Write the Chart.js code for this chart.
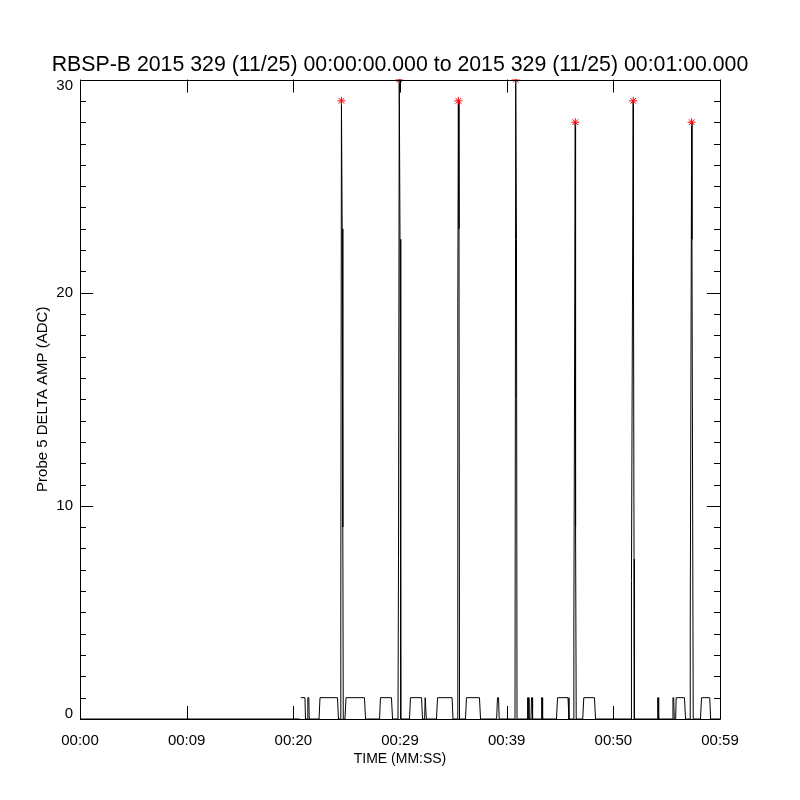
<!DOCTYPE html>
<html>
<head>
<meta charset="utf-8">
<script src="https://cdn.jsdelivr.net/npm/chart.js@4"></script>
<style>
  body { margin: 0; background: #fff; }
</style>
</head>
<body>
<canvas id="probeChart" width="800" height="800"></canvas>
<script>
// time in seconds from 00:00:00, amplitude in ADC counts (null = data gap)
const timeSec = [
    0, 20.60, 20.65, 20.69, 21.09, 21.14,
    21.31, 21.36, 21.45, 21.49,
    22.41, 22.50, 24.14, 24.23,
    24.42, 24.45, 24.51, 24.58, 24.64, 24.68,
    24.84, 24.94, 26.67, 26.77,
    28.08, 28.17, 29.20, 29.30,
    29.81, 29.86, 29.93, 30.00, 30.07,
    30.89, 30.98, 32.02, 32.11,
    32.31, 32.36, 32.41, 32.47,
    33.42, 33.52, 34.88, 34.97,
    35.37, 35.42, 35.47, 35.53, 35.58,
    36.14, 36.23, 37.45, 37.55,
    39.06, 39.14, 39.24, 39.30,
    40.78, 40.85, 40.92, 40.97,
    41.91, 41.96, 42.05, 42.09,
    42.28, 42.33, 42.39, 42.43,
    43.23, 43.28, 43.32, 43.37,
    44.67, 44.77, 45.75, 45.84,
    46.27, 46.30, 46.43, 46.44, 46.48, 46.52,
    47.13, 47.23, 48.23, 48.33,
    51.68, 51.70, 51.86, 51.89, 51.94, 51.97,
    54.12, 54.16, 54.20, 54.25,
    55.55, 55.59, 55.66, 55.71, 55.84, 55.89, 56.67, 56.77,
    57.19, 57.21, 57.34, 57.37, 57.44, 57.49,
    58.17, 58.27, 59.04, 59.12,
    60
];
const amp = [
    0, 0, null, 1, 1, 0,
    0, 1, 1, 0,
    0, 1, 1, 0,
    0, 5.4, 29, 23, 9, 0,
    0, 1, 1, 0,
    0, 1, 1, 0,
    0, 7.5, 30, 22.5, 0,
    0, 1, 1, 0,
    0, 1, 1, 0,
    0, 1, 1, 0,
    0, 19.5, 29, 23, 0,
    0, 1, 1, 0,
    0, 1, 1, 0,
    0, 30, 22.5, 0,
    0, 1, 1, 0,
    0, 1, 1, 0,
    0, 1, 1, 0,
    0, 1, 1, 0,
    0, 4.5, 28, 18.5, 9, 0,
    0, 1, 1, 0,
    0, 6.5, 29, 21, 7.5, 0,
    0, 1, 1, 0,
    0, 1, 1, 0, 0, 1, 1, 0,
    0, 4.5, 28, 22.5, 9, 0,
    0, 1, 1, 0,
    0
];

// red asterisks on the detected peaks
const peakTimes = [24.51, 29.93, 35.47, 40.85, 46.43, 51.86, 57.34];
const peakAmps = [29, 30, 29, 30, 28, 29, 28];

const xTickLabels = ['00:00', '00:09', '00:20', '00:29', '00:39', '00:50', '00:59'];

const FONT = 'Liberation Sans';

// IDL style box with inward ticks on all four sides
const boxTicks = {
    id: 'boxTicks',
    beforeDraw(chart) {
        // IDL keeps the end labels of the y axis inside the box
        const ys = chart.scales.y;
        ys.getLabelItems().forEach(item => {
            if (item._shifted) return;
            if (item.label === '0') item.options.translation[1] -= 5;
            if (item.label === '30') item.options.translation[1] += 6;
            item._shifted = true;
        });
    },
    afterDatasetsDraw(chart) {
        const { ctx, chartArea: a, scales } = chart;
        const xs = scales.x, ys = scales.y;
        ctx.save();
        ctx.strokeStyle = '#000';
        ctx.lineWidth = 1;
        ctx.beginPath();
        ctx.rect(Math.round(a.left) + 0.5, Math.round(a.top) + 0.5,
            Math.round(a.right - a.left), Math.round(a.bottom - a.top));
        xs.ticks.forEach(t => {
            const px = Math.round(xs.getPixelForValue(t.value)) + 0.5;
            ctx.moveTo(px, a.bottom); ctx.lineTo(px, a.bottom - 13);
            ctx.moveTo(px, a.top); ctx.lineTo(px, a.top + 13);
        });
        for (let v = ys.min; v <= ys.max; v += 1) {
            const py = Math.round(ys.getPixelForValue(v)) + 0.5;
            const len = v % 10 === 0 ? 13 : 6;
            ctx.moveTo(a.left, py); ctx.lineTo(a.left + len, py);
            ctx.moveTo(a.right, py); ctx.lineTo(a.right - len, py);
        }
        ctx.stroke();
        ctx.restore();
    }
};

new Chart(document.getElementById('probeChart'), {
    type: 'scatter',
    data: {
        datasets: [{
            label: 'Peaks',
            data: peakTimes.map((t, i) => ({ x: t, y: peakAmps[i] })),
            showLine: false,
            pointStyle: 'star',
            pointRadius: 4,
            pointBorderColor: 'rgb(255, 0, 0)',
            pointBorderWidth: 1,
            clip: 0
        }, {
            label: 'Probe 5 DELTA AMP',
            data: timeSec.map((t, i) => ({ x: t, y: amp[i] })),
            showLine: true,
            spanGaps: false,
            borderColor: '#000',
            borderWidth: 1,
            pointRadius: 0,
            clip: 0
        }]
    },
    options: {
        responsive: false,
        animation: false,
        layout: { padding: 0 },
        plugins: {
            legend: { display: false },
            tooltip: { enabled: false },
            title: {
                display: true,
                text: 'RBSP-B 2015 329 (11/25) 00:00:00.000 to 2015 329 (11/25) 00:01:00.000',
                color: '#000',
                font: { family: FONT, size: 21.3, weight: 'normal' },
                padding: { top: 52, bottom: 2 }
            }
        },
        scales: {
            x: {
                type: 'linear',
                min: 0,
                max: 60,
                grid: { display: false, tickLength: 0 },
                border: { display: false },
                ticks: {
                    stepSize: 10,
                    maxRotation: 0,
                    padding: 13,
                    color: '#000',
                    font: { family: FONT, size: 15 },
                    callback: (v) => xTickLabels[Math.round(v / 10)]
                },
                title: {
                    display: true,
                    text: 'TIME (MM:SS)',
                    color: '#000',
                    font: { family: FONT, size: 14 },
                    padding: { top: 0, bottom: 32 }
                },
                afterFit(scale) {
                    scale.height = 81;
                    scale.paddingLeft = 0;
                    scale.paddingRight = 0;
                }
            },
            y: {
                min: 0,
                max: 30,
                grid: { display: false, tickLength: 0 },
                border: { display: false },
                ticks: {
                    stepSize: 10,
                    padding: 7,
                    color: '#000',
                    font: { family: FONT, size: 15 }
                },
                title: {
                    display: true,
                    text: 'Probe 5 DELTA AMP (ADC)',
                    color: '#000',
                    font: { family: FONT, size: 15 },
                    padding: { top: 34, bottom: 0 }
                },
                afterFit(scale) {
                    scale.width = 80;
                    scale.paddingTop = 0;
                    scale.paddingBottom = 0;
                }
            },
            // empty right axis only reserves the margin so the title centres on the page
            yRight: {
                position: 'right',
                min: 0,
                max: 30,
                grid: { display: false, tickLength: 0 },
                border: { display: false },
                ticks: { display: false },
                afterFit(scale) {
                    scale.width = 80;
                    scale.paddingTop = 0;
                    scale.paddingBottom = 0;
                }
            }
        }
    },
    plugins: [boxTicks]
});
</script>
</body>
</html>
